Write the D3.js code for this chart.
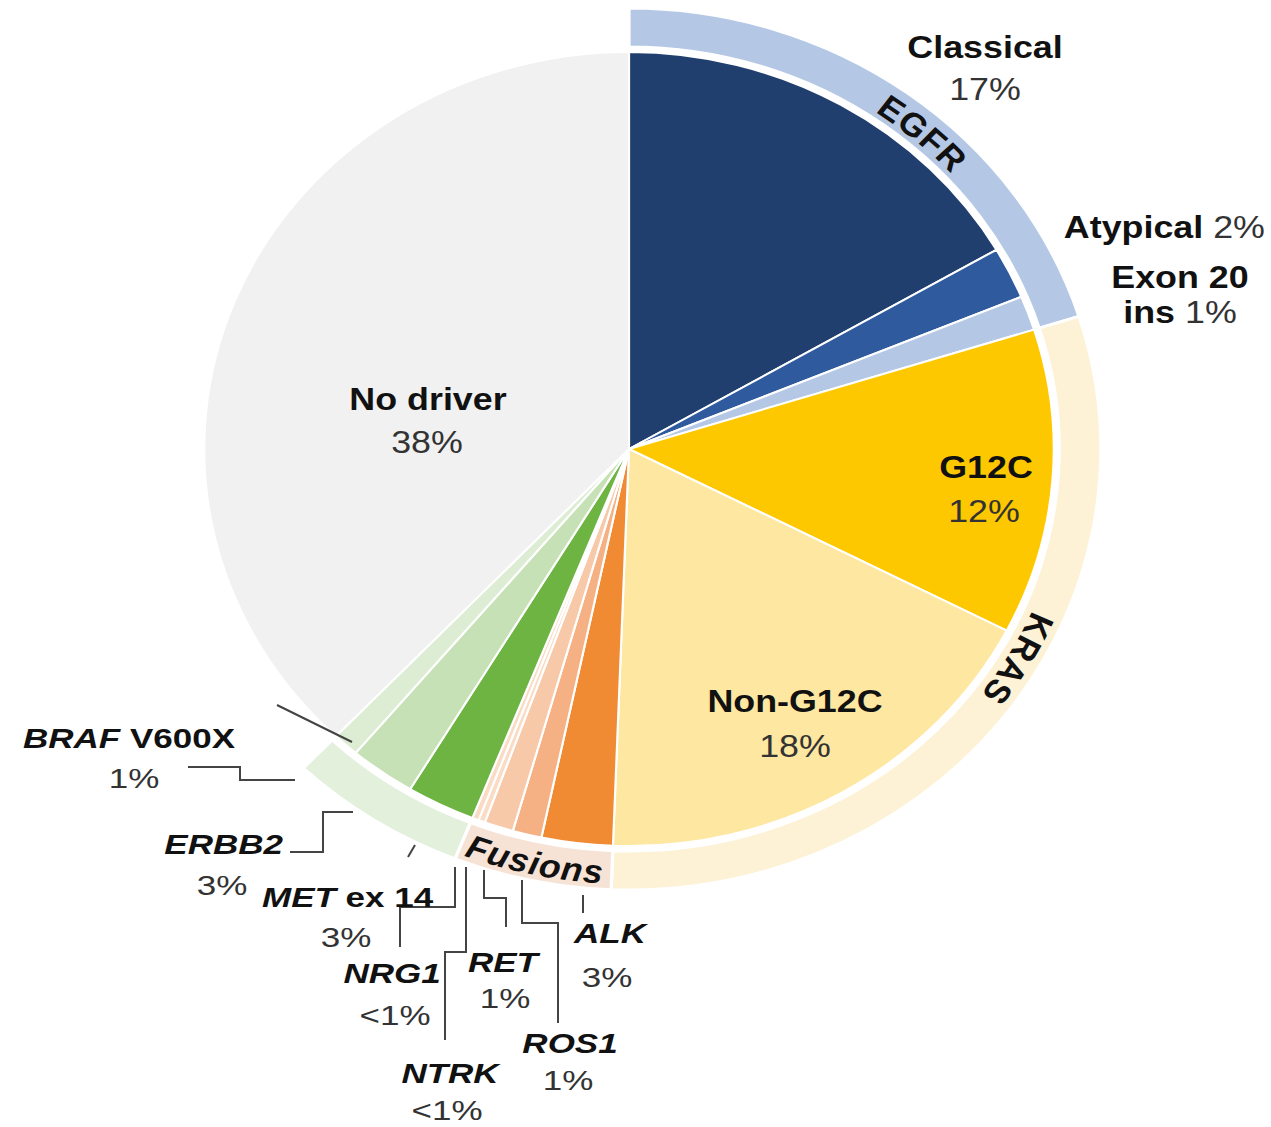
<!DOCTYPE html>
<html>
<head>
<meta charset="utf-8">
<script src="https://cdn.jsdelivr.net/npm/d3@7"></script>
<style>
  body { margin: 0; background: #fff; }
  svg { display: block; font-family: "Liberation Sans", Arial, sans-serif; }
  .big { font-size: 32px; }
  .small { font-size: 28px; }
  .b { font-weight: bold; fill: #111; }
  .pct { fill: #333; }
  .leader { fill: none; stroke: #444; stroke-width: 2; }
</style>
</head>
<body>
<div id="chart"></div>
<script>
// slices, clockwise from 12 o'clock (shares)
const slices  = ["Classical", "Atypical", "Exon 20 ins", "G12C", "Non-G12C", "ALK", "ROS1", "RET", "NTRK", "NRG1", "MET ex 14", "ERBB2", "BRAF V600X", "No driver"];
const shares  = [16.6, 2.1, 1.4, 12.4, 18.0, 2.7, 1.1, 1.1, 0.25, 0.25, 2.6, 2.5, 1.0, 37.8];
const groupOf = ["EGFR", "EGFR", "EGFR", "KRAS", "KRAS", "Fusions", "Fusions", "Fusions", "Fusions", "Fusions", "Other", "Other", "Other", null];
const sliceColors = ["#203f6e", "#2f5a9e", "#b4c8e6", "#fec800", "#fee7a0", "#f08a33", "#f5b184", "#f8c9a8", "#fadcc5", "#fadcc5", "#6db443", "#c6e1b5", "#dcedd3", "#f1f1f1"];
const groups = ["EGFR", "KRAS", "Fusions", "Other"];
const groupColors = ["#b4c8e6", "#fdf2d6", "#f6e3d6", "#e3f0dc"];

const W = 1271, H = 1127;
const cx = 629, cy = 449, sx = 1.07;   // source picture is a bit stretched horizontally
const R = 397, ringIn = 402, ringOut = 441;

const svg = d3.select("#chart").append("svg").attr("width", W).attr("height", H);

const pieG = svg.append("g").attr("transform", `translate(${cx},${cy}) scale(${sx},1)`);

let pie = d3.pie().sort(null).value(d => d);
let arcs = pie(shares);
let arc = d3.arc().innerRadius(0).outerRadius(R);

pieG.selectAll("path.slice")
    .data(arcs)
    .enter()
    .append("path")
    .attr("class", "slice")
    .attr("d", arc)
    .attr("fill", (d, i) => sliceColors[i])
    .attr("stroke", "#fff")
    .attr("stroke-width", 2);

// outer ring, one band per gene group
let ringData = groups.map((g, k) => {
    let mine = arcs.filter((a, i) => groupOf[i] === g);
    return {
        name: g,
        startAngle: d3.min(mine, a => a.startAngle),
        endAngle: d3.max(mine, a => a.endAngle),
        color: groupColors[k]
    };
});
let ringArc = d3.arc().innerRadius(ringIn).outerRadius(ringOut);
pieG.selectAll("path.ring")
    .data(ringData)
    .enter()
    .append("path")
    .attr("class", "ring")
    .attr("d", ringArc)
    .attr("fill", d => d.color)
    .attr("stroke", "#fff")
    .attr("stroke-width", 3);

// curved group names
function pt(r, deg) {
    let a = deg * Math.PI / 180;
    return [r * Math.sin(a), -r * Math.cos(a)];
}
function arcPath(r, d1, d2) {
    let p1 = pt(r, d1), p2 = pt(r, d2);
    let sweep = d2 > d1 ? 1 : 0;
    return `M${p1[0]},${p1[1]} A${r},${r} 0 0 ${sweep} ${p2[0]},${p2[1]}`;
}
const curved = [
    {id: "egfrPath", text: "EGFR", r: 408, from: 11, to: 71, italic: false, size: 33},
    {id: "krasPath", text: "KRAS", r: 410, from: 90, to: 150, italic: false, size: 33},
    {id: "fusPath", text: "Fusions", r: 435, from: 222, to: 162, italic: true, size: 33}
];
let defs = svg.append("defs");
curved.forEach(c => {
    defs.append("path").attr("id", c.id).attr("d", arcPath(c.r, c.from, c.to));
    pieG.append("text")
        .attr("class", "b")
        .style("font-size", c.size + "px")
        .style("font-style", c.italic ? "italic" : "normal")
        .style("letter-spacing", "1px")
        .append("textPath")
        .attr("href", "#" + c.id)
        .attr("startOffset", "50%")
        .attr("text-anchor", "middle")
        .text(c.text);
});

// leader lines
const leaders = [
    [[188, 767], [240, 767], [240, 780], [295, 780]],
    [[277, 705], [352, 742]],
    [[290, 852], [323, 852], [323, 812], [353, 812]],
    [[415, 845], [408, 857]],
    [[455, 867], [455, 907], [400, 907], [400, 947]],
    [[466, 867], [466, 952], [445, 952], [445, 1040]],
    [[484, 870], [484, 898], [506, 898], [506, 927]],
    [[522, 880], [522, 923], [558, 923], [558, 1023]],
    [[583, 895], [583, 913]]
];
svg.selectAll("path.leader")
    .data(leaders)
    .enter()
    .append("path")
    .attr("class", "leader")
    .attr("d", d3.line());

// labels: parts = [text, style]  (b = bold, bi = bold italic, r = regular percent)
const labels = [
    {x: 985, y: 58, size: "big", anchor: "middle", parts: [["Classical", "b"]]},
    {x: 985, y: 100, size: "big", anchor: "middle", parts: [["17%", "r"]]},
    {x: 1265, y: 238, size: "big", anchor: "end", parts: [["Atypical", "b"], [" 2%", "r"]]},
    {x: 1180, y: 288, size: "big", anchor: "middle", parts: [["Exon 20", "b"]]},
    {x: 1180, y: 323, size: "big", anchor: "middle", parts: [["ins", "b"], [" 1%", "r"]]},
    {x: 986, y: 478, size: "big", anchor: "middle", parts: [["G12C", "b"]]},
    {x: 984, y: 522, size: "big", anchor: "middle", parts: [["12%", "r"]]},
    {x: 795, y: 712, size: "big", anchor: "middle", parts: [["Non-G12C", "b"]]},
    {x: 795, y: 757, size: "big", anchor: "middle", parts: [["18%", "r"]]},
    {x: 428, y: 410, size: "big", anchor: "middle", parts: [["No driver", "b"]]},
    {x: 427, y: 453, size: "big", anchor: "middle", parts: [["38%", "r"]]},
    {x: 23, y: 748, size: "small", anchor: "start", parts: [["BRAF", "bi"], [" V600X", "b"]]},
    {x: 134, y: 788, size: "small", anchor: "middle", parts: [["1%", "r"]]},
    {x: 283, y: 854, size: "small", anchor: "end", parts: [["ERBB2", "bi"]]},
    {x: 222, y: 895, size: "small", anchor: "middle", parts: [["3%", "r"]]},
    {x: 262, y: 907, size: "small", anchor: "start", parts: [["MET", "bi"], [" ex 14", "b"]]},
    {x: 346, y: 947, size: "small", anchor: "middle", parts: [["3%", "r"]]},
    {x: 392, y: 983, size: "small", anchor: "middle", parts: [["NRG1", "bi"]]},
    {x: 395, y: 1025, size: "small", anchor: "middle", parts: [["<1%", "r"]]},
    {x: 503, y: 972, size: "small", anchor: "middle", parts: [["RET", "bi"]]},
    {x: 505, y: 1008, size: "small", anchor: "middle", parts: [["1%", "r"]]},
    {x: 450, y: 1083, size: "small", anchor: "middle", parts: [["NTRK", "bi"]]},
    {x: 447, y: 1120, size: "small", anchor: "middle", parts: [["<1%", "r"]]},
    {x: 570, y: 1053, size: "small", anchor: "middle", parts: [["ROS1", "bi"]]},
    {x: 568, y: 1090, size: "small", anchor: "middle", parts: [["1%", "r"]]},
    {x: 610, y: 943, size: "small", anchor: "middle", parts: [["ALK", "bi"]]},
    {x: 607, y: 987, size: "small", anchor: "middle", parts: [["3%", "r"]]}
];
const stretch = {big: 1.12, small: 1.25};

labels.forEach(l => {
    let t = svg.append("text")
        .attr("class", l.size)
        .attr("text-anchor", l.anchor)
        .attr("transform", `translate(${l.x},${l.y}) scale(${stretch[l.size]},1)`);
    l.parts.forEach(p => {
        let s = t.append("tspan").text(p[0]);
        if (p[1] === "r") {
            s.attr("class", "pct");
        } else {
            s.attr("class", "b");
            if (p[1] === "bi") s.style("font-style", "italic");
        }
    });
});
</script>
</body>
</html>
